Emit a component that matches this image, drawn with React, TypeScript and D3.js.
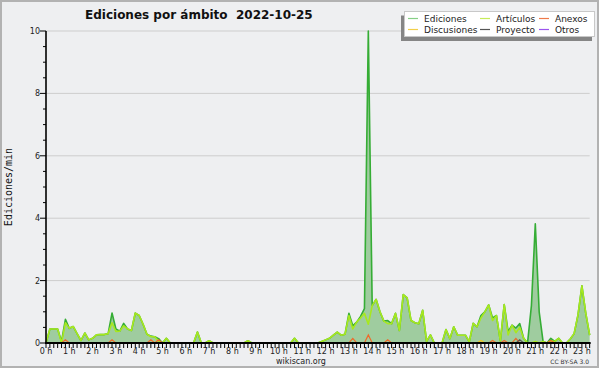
import React from "react";
import * as d3 from "d3";

// ---- data (edits per minute, 10-minute bins starting at 00:00) ----
const EDICIONES = [
  0, 0.45, 0.45, 0.45, 0.05, 0.76, 0.47, 0.53, 0.3, 0.08,
  0.32, 0.1, 0.15, 0.26, 0.27, 0.27, 0.3, 0.96, 0.45, 0.38,
  0.63, 0.45, 0.4, 0.96, 0.88, 0.6, 0.28, 0.22, 0.2, 0.14,
  0, 0.15, 0, 0, 0, 0, 0, 0, 0, 0.35,
  0, 0, 0.07, 0, 0, 0, 0, 0, 0, 0,
  0, 0, 0.07, 0, 0, 0, 0, 0, 0, 0,
  0, 0, 0, 0, 0.15, 0, 0, 0, 0, 0,
  0, 0.05, 0.1, 0.15, 0.25, 0.35, 0.25, 0.28, 0.95, 0.55,
  0.67, 0.85, 1.1, 10, 1.2, 1.4, 1.0, 0.7, 0.72, 0.62,
  0.95, 0.4, 1.55, 1.45, 0.72, 0.65, 0.62, 1.05, 0.05, 0.26,
  0, 0, 0, 0.43, 0.14, 0.52, 0.25, 0.25, 0.25, 0.04,
  0.63, 0.52, 0.88, 1.0, 1.22, 0.8, 0.88, 0.07, 1.23, 0.37,
  0.57, 0.48, 0.62, 0.15, 0, 1.2, 3.82, 1.0, 0.05, 0,
  0.15, 0.05, 0.15, 0, 0, 0.13, 0.3, 0.9, 1.83, 0.95,
  0.25,
];
const ARTICULOS = [
  0, 0.45, 0.45, 0.45, 0, 0.65, 0.47, 0.53, 0.3, 0.08,
  0.32, 0.1, 0.15, 0.26, 0.27, 0.27, 0.3, 0.65, 0.37, 0.38,
  0.55, 0.45, 0.4, 0.96, 0.88, 0.6, 0.28, 0.2, 0.2, 0.05,
  0, 0.15, 0, 0, 0, 0, 0, 0, 0, 0.35,
  0, 0, 0.07, 0, 0, 0, 0, 0, 0, 0,
  0, 0, 0.07, 0, 0, 0, 0, 0, 0, 0,
  0, 0, 0, 0, 0.15, 0, 0, 0, 0, 0,
  0, 0.05, 0.1, 0.15, 0.25, 0.35, 0.25, 0.28, 0.88, 0.45,
  0.67, 0.8, 0.95, 0.6, 1.2, 1.4, 1.0, 0.7, 0.62, 0.62,
  0.95, 0.4, 1.55, 1.45, 0.72, 0.65, 0.62, 1.05, 0.05, 0.26,
  0, 0, 0, 0.43, 0.14, 0.52, 0.25, 0.25, 0.25, 0.04,
  0.63, 0.52, 0.8, 1.0, 1.22, 0.72, 0.88, 0.07, 1.23, 0.26,
  0.57, 0.33, 0.5, 0.15, 0, 0, 0.05, 0, 0.05, 0,
  0.07, 0.05, 0.15, 0, 0, 0.13, 0.3, 0.9, 1.83, 0.95,
  0.25,
];
// sparse [bin, value] pairs for the small namespaces
const ANEXOS_PTS: [number, number][] = [
  [5, 0.1], [17, 0.1], [27, 0.1], [29, 0.1], [79, 0.15], [83, 0.26],
  [88, 0.1], [115, 0.08], [118, 0.08], [121, 0.15], [130, 0.08],
];
const DISCUSIONES_PTS: [number, number][] = [[112, 0.08]];
const PROYECTO_PTS: [number, number][] = [[122, 0.1]];
const OTROS_PTS: [number, number][] = [];

const HOUR_LABELS = [
  "0 h", "1 h", "2 h", "3 h", "4 h", "5 h", "6 h", "7 h", "8 h", "9 h", "10 h", "11 h",
  "12 h", "13 h", "14 h", "15 h", "16 h", "17 h", "18 h", "19 h", "20 h", "21 h", "22 h", "23 h",
];
const Y_TICKS = [0, 2, 4, 6, 8, 10];

const LEGEND = [
  { name: "Ediciones", color: "#86cf86", col: 0, row: 0 },
  { name: "Discusiones", color: "#f2cf4a", col: 0, row: 1 },
  { name: "Artículos", color: "#c6ec5a", col: 1, row: 0 },
  { name: "Proyecto", color: "#555555", col: 1, row: 1 },
  { name: "Anexos", color: "#ee7a4a", col: 2, row: 0 },
  { name: "Otros", color: "#9b55ee", col: 2, row: 1 },
];

const expand = (pts: [number, number][]) => {
  const a = EDICIONES.map(() => 0);
  pts.forEach(([i, v]) => (a[i] = v));
  return a;
};

export default function App() {
  const W = 600, H = 370;
  const x = d3.scaleLinear().domain([0, 24]).range([46, 46 + 24 * 23.3]);
  const y = d3.scaleLinear().domain([0, 10]).range([343, 31]);
  const bx = (i: number) => x(i / 6);
  const line = d3.line<number>().x((_, i) => bx(i)).y((d) => y(d));
  const area = d3.area<number>().x((_, i) => bx(i)).y0(y(0)).y1((d) => y(d));
  const nBins = EDICIONES.length;
  const font = "DejaVu Sans";
  const small = [
    { data: expand(DISCUSIONES_PTS), color: "#f2c21a" },
    { data: expand(ANEXOS_PTS), color: "#ee6a2a" },
    { data: expand(PROYECTO_PTS), color: "#555555" },
    { data: expand(OTROS_PTS), color: "#9b55ee" },
  ];
  const legendX = [408, 480, 539];
  const legendY = [18.5, 29.5];
  const xMax = bx(nBins - 1);

  return (
    <svg width={W} height={H} style={{ position: "absolute", left: 0, top: 0 }} fontFamily={font}>
      <rect x={0} y={0} width={W} height={H} fill="#ffffff" />
      <rect x={1} y={1} width={597} height={366} fill="#eeeff1" stroke="#b2b2b2" strokeWidth={2} />
      {/* grid */}
      {Y_TICKS.filter((t) => t > 0).map((t) => (
        <line key={t} x1={46} x2={xMax} y1={y(t)} y2={y(t)} stroke="#cdcdcd" strokeWidth={1} />
      ))}
      {/* series */}
      <path d={area(EDICIONES) || ""} fill="#9fcc9f" />
      <path d={line(EDICIONES) || ""} fill="none" stroke="#35ad35" strokeWidth={1.6} strokeLinejoin="round" />
      <path d={line(ARTICULOS) || ""} fill="none" stroke="#a8e81e" strokeWidth={1.6} strokeLinejoin="round" />
      {small.map((s, k) => (
        <path key={k} d={line(s.data) || ""} fill="none" stroke={s.color} strokeWidth={1.2} />
      ))}
      {/* y axis */}
      <line x1={46} x2={46} y1={31} y2={343} stroke="#000" strokeWidth={1.6} />
      {d3.range(0, 10.01, 0.5).map((t) => {
        const major = Math.abs(t % 2) < 1e-6;
        return (
          <line key={t} x1={major ? 40 : 43} x2={46} y1={y(t)} y2={y(t)} stroke="#000" strokeWidth={1} />
        );
      })}
      {Y_TICKS.map((t) => (
        <text key={t} x={40} y={y(t) + 3} fontSize={8} textAnchor="end" fill="#222">
          {t}
        </text>
      ))}
      <text
        transform={`translate(12,${187}) rotate(-90)`}
        fontSize={10}
        fontFamily="DejaVu Sans Mono"
        textAnchor="middle"
        fill="#111"
      >
        Ediciones/min
      </text>
      {/* x axis */}
      <line x1={45} x2={xMax + 1} y1={343} y2={343} stroke="#000" strokeWidth={2} />
      {d3.range(0, nBins).map((i) => (
        <line key={i} x1={bx(i)} x2={bx(i)} y1={343} y2={348} stroke="#000" strokeWidth={1} />
      ))}
      {HOUR_LABELS.map((l, h) => (
        <text key={l} x={x(h)} y={354} fontSize={8} textAnchor="middle" fill="#222">
          {l}
        </text>
      ))}
      {/* title */}
      <text x={85} y={18.5} fontSize={12} fontWeight="bold" fill="#111">
        Ediciones por ámbito{"\u00a0\u00a0"}2022-10-25
      </text>
      {/* legend */}
      <rect x={401} y={15.5} width={191} height={25.5} fill="#858585" />
      <rect x={404.5} y={11.5} width={190} height={25} fill="#ffffff" stroke="#c8c8c8" strokeWidth={1} />
      {LEGEND.map((e) => (
        <g key={e.name}>
          <line
            x1={legendX[e.col]}
            x2={legendX[e.col] + 10}
            y1={legendY[e.row]}
            y2={legendY[e.row]}
            stroke={e.color}
            strokeWidth={1.2}
          />
          <text x={legendX[e.col] + 16} y={legendY[e.row] + 3.2} fontSize={9} fill="#222">
            {e.name}
          </text>
        </g>
      ))}
      {/* footer */}
      <text x={301} y={364} fontSize={8} textAnchor="middle" fill="#222">
        wikiscan.org
      </text>
      <text x={589} y={364} fontSize={6} textAnchor="end" fill="#333">
        CC BY-SA 3.0
      </text>
    </svg>
  );
}
